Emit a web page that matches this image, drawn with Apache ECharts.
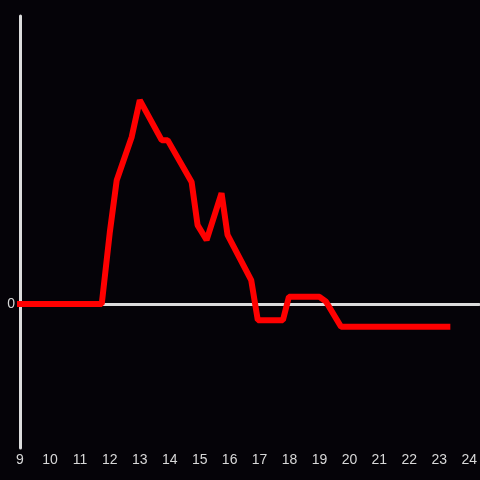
<!DOCTYPE html>
<html>
<head>
<meta charset="utf-8">
<script src="https://cdn.jsdelivr.net/npm/echarts@6/dist/echarts.min.js"></script>
<style>
  html, body { margin: 0; padding: 0; background: #050308; }
  #chart { width: 480px; height: 480px; }
</style>
</head>
<body>
<div id="chart"></div>
<script>
// hours of day (x) and values (y)
var hours = [9, 11.73, 12.0, 12.23, 12.73, 13.0, 13.73, 13.93, 14.73, 14.93, 15.23, 15.73, 15.93, 16.72, 16.94, 17.78, 17.98, 19.0, 19.22, 19.72, 23.27];
var values = [0, 0, 0.25, 0.43, 0.58, 0.708, 0.569, 0.569, 0.424, 0.274, 0.222, 0.385, 0.24, 0.083, -0.056, -0.056, 0.025, 0.025, 0.008, -0.079, -0.079];

var seriesData = hours.map(function (h, i) { return [h, values[i]]; });

var myChart = echarts.init(document.getElementById('chart'));
var option = {
  backgroundColor: '#050308',
  animation: false,
  grid: { left: 20, right: 0, top: 16, bottom: 32 },
  xAxis: {
    type: 'value',
    min: 9,
    max: 24 + 1 / 3,
    interval: 1,
    axisLine: { show: true, onZero: true, lineStyle: { color: '#dcdcdc', width: 3 } },
    axisTick: { show: false },
    splitLine: { show: false },
    axisLabel: {
      color: '#d8d8d8',
      fontSize: 14,
      fontFamily: 'Liberation Sans',
      margin: 5,
      formatter: function (v) { return Number.isInteger(v) ? String(v) : ''; },
      showMaxLabel: false
    },
    position: 'bottom'
  },
  yAxis: {
    type: 'value',
    min: -0.5,
    max: 1,
    interval: 0.5,
    axisLine: { show: true, lineStyle: { color: '#dcdcdc', width: 3 } },
    axisTick: { show: false },
    splitLine: { show: false },
    axisLabel: {
      color: '#d8d8d8',
      fontSize: 14,
      fontFamily: 'Liberation Sans',
      margin: 5,
      formatter: function (v) { return v === 0 ? '0' : ''; }
    }
  },
  series: [{
    type: 'line',
    data: seriesData,
    symbol: 'none',
    clip: false,
    lineStyle: { color: '#ff0000', width: 6, cap: 'square' },
    z: 1
  }]
};
myChart.setOption(option);
</script>
</body>
</html>
